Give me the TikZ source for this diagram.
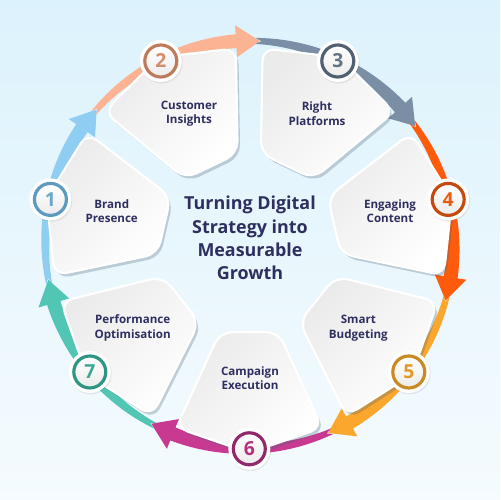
\documentclass[tikz,border=0pt]{standalone}
\usepackage{fontspec}
\setmainfont{Open Sans}
\usepackage{tikz}
\usetikzlibrary{shadows}

\definecolor{ink}{HTML}{2E2F5F}
\definecolor{arcA}{HTML}{8FCDF2}\definecolor{ringA}{HTML}{5C9AC0}\definecolor{numA}{HTML}{6BA7CB}
\definecolor{arcB}{HTML}{FBB393}\definecolor{ringB}{HTML}{BD7B5C}\definecolor{numB}{HTML}{D68D6B}
\definecolor{arcC}{HTML}{7A8EA5}\definecolor{ringC}{HTML}{4E6072}\definecolor{numC}{HTML}{5F7286}
\definecolor{arcD}{HTML}{FF5B0D}\definecolor{ringD}{HTML}{C64A10}\definecolor{numD}{HTML}{E95B12}
\definecolor{arcE}{HTML}{FBA62D}\definecolor{ringE}{HTML}{C98A22}\definecolor{numE}{HTML}{E09A28}
\definecolor{arcF}{HTML}{C83A92}\definecolor{ringF}{HTML}{92286C}\definecolor{numF}{HTML}{B3327F}
\definecolor{arcG}{HTML}{52C6B4}\definecolor{ringG}{HTML}{2E9584}\definecolor{numG}{HTML}{3AA893}

\begin{document}
\begin{tikzpicture}[x=0.02cm, y=0.02cm,
    card/.style={draw=white, line width=1.2pt, rounded corners=7pt,
        top color=gray!16, bottom color=white, shading angle=45},
    cardshade/.style={fill={rgb,255:red,70;green,95;blue,115}, fill opacity=0.28, rounded corners=7pt},
    cardtext/.style={text=ink, font=\fontsize{6.6}{8.2}\selectfont\bfseries, align=center},
    badge/.style={circle, fill=white, minimum size=0.84cm, inner sep=0pt,
        drop shadow={opacity=0.15, shadow xshift=0.5pt, shadow yshift=-0.8pt}},
    badgering/.style={circle, line width=1.8pt, minimum size=0.64cm, inner sep=0pt,
        top color=white, bottom color=gray!15, font=\fontsize{11}{11}\selectfont\bfseries}]

    % background
    \useasboundingbox (-249.3,-255.2) rectangle (250.7,244.8);
    \shade[top color={rgb,255:red,220;green,242;blue,252}, bottom color={rgb,255:red,245;green,251;blue,254}]
        (-249.3,-255.2) rectangle (250.7,244.8);

    % ring of arrows
    \foreach \a/\col in {167.14/arcA, 115.71/arcB, 64.29/arcC, 12.86/arcD,
                         -38.57/arcE, -90/arcF, -141.43/arcG} {
        \pgfmathsetmacro\ta{\a+24}
        \pgfmathsetmacro\tn{\a+22.3}
        \pgfmathsetmacro\tb{\a-22}
        \pgfmathsetmacro\tc{\a-28.7}
        \fill[\col] plot[variable=\u, domain=\ta:\tb, samples=24] (\u:{207+4*(\ta-\u)/46})
            -- (\tb:220) -- (\tc:204) -- (\tb:188)
            -- plot[variable=\u, domain=\tb:\ta, samples=24] (\u:{201-4*(\ta-\u)/46})
            -- (\tn:204) -- cycle;
    }

    % cards
    \foreach \a in {167.14, 115.71, 64.29, 12.86, -38.57, -90, -141.43} {
        \fill[cardshade, shift={(2.5,-3.5)}]
            (\a+18.5:92) -- (\a+21.8:197) -- (\a:208) -- (\a-21.8:197) -- (\a-18.5:92) -- cycle;
        \path[card]
            (\a+18.5:92) -- (\a+21.8:197) -- (\a:208) -- (\a-21.8:197) -- (\a-18.5:92) -- cycle;
    }

    % card texts
    \node (t1) [cardtext] at (-137.6,33.8) {Brand\\Presence};
    \node (t2) [cardtext] at (-60.3,131.3) {Customer\\Insights};
    \node (t3) [cardtext] at (67.7,131.3) {Right\\Platforms};
    \node (t4) [cardtext] at (140.7,33.8) {Engaging\\Content};
    \node (t5) [cardtext] at (109,-83.2) {Smart\\Budgeting};
    \node (t6) [cardtext] at (0.7,-133.2) {Campaign\\Execution};
    \node (t7) [cardtext] at (-116.6,-83.2) {Performance\\Optimisation};

    % title
    \node (title) [text=ink, font=\fontsize{10.2}{13.2}\selectfont\bfseries, align=center]
        at (0.7,6.8) {Turning Digital\\Strategy into\\Measurable\\Growth};

    % numbered badges
    \foreach \a/\k/\col in {167.14/1/A, 115.71/2/B, 64.29/3/C, 12.86/4/D,
                            -38.57/5/E, -90/6/F, -141.43/7/G} {
        \node (m\k) [badge] at (\a:204) {};
        \node (n\k) [badgering, draw=ring\col, text=num\col] at (m\k) {\k};
    }
\end{tikzpicture}
\end{document}
